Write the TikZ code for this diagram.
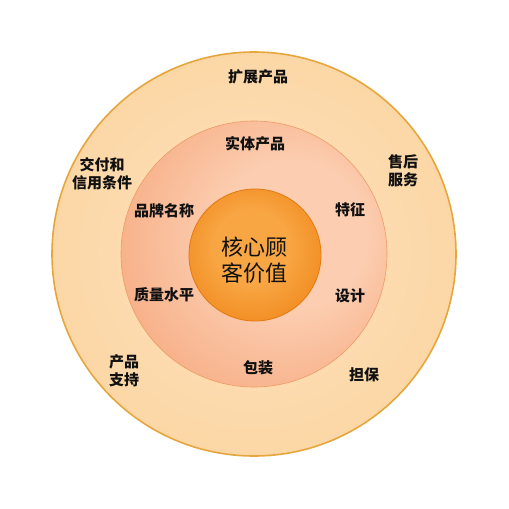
\documentclass[tikz,border=0pt]{standalone}
\usepackage{fontspec}
\newfontfamily\cjk{Noto Sans CJK SC}
\definecolor{outerA}{HTML}{FEE2BE}
\definecolor{outerB}{HTML}{FCD7A6}
\definecolor{outerLine}{HTML}{E6A63E}
\definecolor{midA}{HTML}{FCCDB0}
\definecolor{midB}{HTML}{F6AA80}
\definecolor{midLine}{HTML}{EE9A68}
\definecolor{inA}{HTML}{F8A644}
\definecolor{inB}{HTML}{F0871A}
\definecolor{inLine}{HTML}{E27A12}
\definecolor{txt}{HTML}{111111}
\pgfdeclareradialshading{midshade}{\pgfpoint{10bp}{5bp}}{color(0bp)=(midA); color(14bp)=(midA); color(34bp)=(midB); color(50bp)=(midB)}
\pgfdeclareradialshading{inshade}{\pgfpoint{-2bp}{4bp}}{color(0bp)=(inA); color(14bp)=(inA); color(32bp)=(inB); color(50bp)=(inB)}
\tikzset{
  lbl/.style={font=\cjk\bfseries\fontsize{15}{18}\selectfont, text=txt, align=center, inner sep=0pt},
  corelbl/.style={font=\cjk\fontsize{22}{26}\selectfont, text=txt, align=center, inner sep=0pt}
}
\begin{document}
\begin{tikzpicture}[x=1pt,y=-1pt]
\useasboundingbox (0,0) rectangle (509,509);
\fill[white] (0,0) rectangle (509,509);
% outer circle
\shade[inner color=outerA, outer color=outerB, draw=outerLine, line width=1.6pt] (254,254) circle[radius=202];
% middle circle
\shade[shading=midshade, draw=midLine, line width=0.6pt] (254,254) circle[radius=133];
% inner circle
\shade[shading=inshade, draw=inLine, line width=0.8pt] (255,255) circle[radius=66];
% labels
\node[corelbl] (core) at (254,260.5) {核心顾\\客价值};
\node[lbl] (ext) at (258,77) {扩展产品};
\node[lbl] (phys) at (255,144) {实体产品};
\node[lbl] (deliv) at (102,174) {交付和\\信用条件};
\node[lbl] (after) at (403,171) {售后\\服务};
\node[lbl] (brand) at (164,211) {品牌名称};
\node[lbl] (feat) at (350,210) {特征};
\node[lbl] (qual) at (164,295) {质量水平};
\node[lbl] (design) at (350,296) {设计};
\node[lbl] (supp) at (124,371) {产品\\支持};
\node[lbl] (pack) at (258,368) {包装};
\node[lbl] (warr) at (364,375) {担保};
\end{tikzpicture}
\end{document}
